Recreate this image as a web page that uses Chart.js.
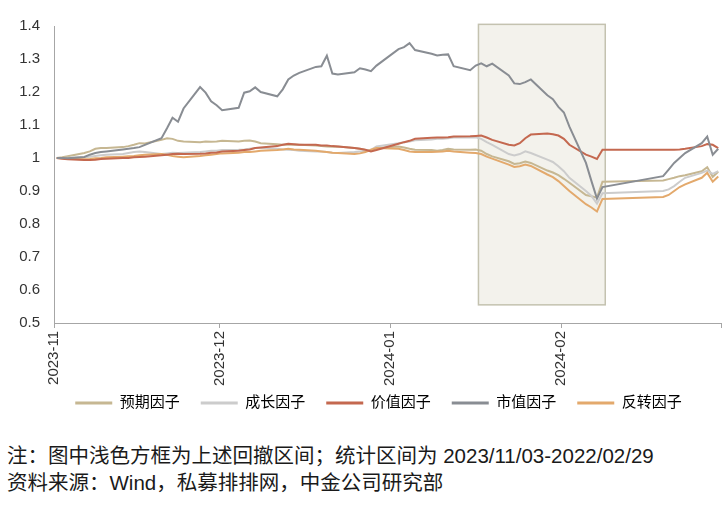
<!DOCTYPE html>
<html>
<head>
<meta charset="utf-8">
<script src="https://cdn.jsdelivr.net/npm/chart.js@4.4.1/dist/chart.umd.min.js"></script>
<style>
  html, body { margin: 0; padding: 0; background: #fff; }
  body { width: 726px; height: 507px; position: relative; overflow: hidden;
         font-family: "Liberation Sans", "Noto Sans CJK SC", sans-serif; }
  #c { position: absolute; left: 0; top: 0; }
  .note { position: absolute; left: 7px; font-size: 20.5px; line-height: 27px; color: #1a1a1a; white-space: nowrap; }
</style>
</head>
<body>
<canvas id="c" width="726" height="437"></canvas>
<div class="note" style="top:442px">注：图中浅色方框为上述回撤区间；统计区间为 2023/11/03-2022/02/29</div>
<div class="note" style="top:469px">资料来源：Wind，私募排排网，中金公司研究部</div>
<script>
// 交易日
const dates = [
  '2023-11-01','2023-11-02','2023-11-03','2023-11-06','2023-11-07','2023-11-08','2023-11-09','2023-11-10',
  '2023-11-13','2023-11-14','2023-11-15','2023-11-16','2023-11-17','2023-11-20','2023-11-21','2023-11-22',
  '2023-11-23','2023-11-24','2023-11-27','2023-11-28','2023-11-29','2023-11-30',
  '2023-12-01','2023-12-04','2023-12-05','2023-12-06','2023-12-07','2023-12-08','2023-12-11','2023-12-12',
  '2023-12-13','2023-12-14','2023-12-15','2023-12-18','2023-12-19','2023-12-20','2023-12-21','2023-12-22',
  '2023-12-25','2023-12-26','2023-12-27','2023-12-28','2023-12-29',
  '2024-01-02','2024-01-03','2024-01-04','2024-01-05','2024-01-08','2024-01-09','2024-01-10','2024-01-11',
  '2024-01-12','2024-01-15','2024-01-16','2024-01-17','2024-01-18','2024-01-19','2024-01-22','2024-01-23',
  '2024-01-24','2024-01-25','2024-01-26','2024-01-29','2024-01-30','2024-01-31',
  '2024-02-01','2024-02-02','2024-02-05','2024-02-06','2024-02-07','2024-02-08','2024-02-19','2024-02-20',
  '2024-02-21','2024-02-22','2024-02-23','2024-02-26','2024-02-27','2024-02-28','2024-02-29'
];

// 各因子净值
const yuqi = [
  1.000,1.002,1.005,1.015,1.020,1.028,1.030,1.030,1.033,1.036,1.040,1.045,1.044,1.055,1.060,1.058,1.052,1.050,1.048,1.050,1.049,1.050,
  1.052,1.050,1.052,1.053,1.050,1.045,1.042,1.040,1.040,1.041,1.040,1.038,1.036,1.035,1.034,1.035,1.030,1.028,1.024,1.022,1.030,
  1.035,1.032,1.028,1.025,1.024,1.022,1.024,1.028,1.026,1.025,1.026,1.022,1.012,1.005,0.990,0.982,0.984,0.989,0.985,0.962,0.956,0.948,
  0.937,0.925,0.888,0.884,0.880,0.928,0.932,0.936,0.940,0.945,0.948,0.960,0.972,0.943,0.958
];
const chengzhang = [
  1.000,1.000,1.001,1.002,1.004,1.006,1.008,1.010,1.012,1.015,1.018,1.020,1.018,1.012,1.014,1.016,1.015,1.016,1.018,1.020,1.022,1.022,
  1.024,1.025,1.026,1.028,1.030,1.030,1.028,1.026,1.025,1.024,1.022,1.020,1.020,1.018,1.016,1.015,1.018,1.020,1.022,1.025,1.035,
  1.045,1.048,1.050,1.054,1.056,1.058,1.058,1.060,1.062,1.062,1.063,1.058,1.048,1.040,1.012,1.008,1.012,1.020,1.015,0.995,0.988,0.975,
  0.960,0.940,0.900,0.885,0.862,0.893,0.900,0.905,0.915,0.928,0.940,0.955,0.962,0.952,0.960
];
const jiazhi = [
  1.000,0.998,0.996,0.994,0.994,0.995,0.997,0.998,1.000,1.000,1.002,1.003,1.004,1.008,1.010,1.012,1.013,1.012,1.013,1.014,1.016,1.017,
  1.020,1.022,1.024,1.026,1.030,1.032,1.036,1.040,1.043,1.042,1.040,1.040,1.038,1.038,1.036,1.035,1.030,1.028,1.025,1.020,1.024,
  1.043,1.048,1.052,1.058,1.061,1.062,1.062,1.063,1.065,1.066,1.067,1.068,1.062,1.055,1.040,1.038,1.045,1.060,1.071,1.074,1.072,1.068,
  1.058,1.040,1.010,1.004,0.997,1.025,1.025,1.025,1.025,1.026,1.028,1.036,1.042,1.040,1.030
];
const shizhi = [
  1.000,1.000,0.999,1.003,1.010,1.015,1.018,1.020,1.026,1.028,1.030,1.033,1.040,1.060,1.090,1.122,1.110,1.150,1.215,1.198,1.172,1.160,
  1.145,1.152,1.198,1.202,1.214,1.200,1.187,1.208,1.238,1.250,1.258,1.276,1.278,1.310,1.256,1.253,1.260,1.272,1.268,1.263,1.280,
  1.330,1.336,1.348,1.327,1.316,1.311,1.313,1.314,1.278,1.266,1.280,1.287,1.278,1.286,1.250,1.226,1.224,1.230,1.238,1.190,1.178,1.155,
  1.138,1.095,0.985,0.930,0.877,0.912,0.945,0.965,0.985,1.000,1.015,1.045,1.065,1.010,1.028
];
const fanzhuan = [
  1.000,0.999,0.998,0.996,0.997,0.999,1.000,1.002,1.004,1.005,1.006,1.008,1.010,1.012,1.010,1.006,1.004,1.002,1.006,1.008,1.010,1.012,
  1.014,1.016,1.018,1.018,1.020,1.022,1.024,1.026,1.028,1.026,1.025,1.022,1.020,1.018,1.016,1.015,1.012,1.014,1.018,1.025,1.030,
  1.028,1.024,1.020,1.018,1.018,1.019,1.020,1.022,1.020,1.016,1.015,1.012,1.004,0.998,0.980,0.973,0.975,0.980,0.976,0.950,0.942,0.930,
  0.915,0.900,0.860,0.850,0.838,0.876,0.882,0.888,0.900,0.912,0.920,0.940,0.955,0.928,0.944
];

const seriesNames = ['预期因子', '成长因子', '价值因子', '市值因子', '反转因子'];
const seriesColors = ['#c6b792', '#cccccc', '#c4684f', '#898d93', '#e3a96c'];

// 横轴刻度（月初）
const monthStarts = ['2023-11-01', '2023-12-01', '2024-01-01', '2024-02-01', '2024-03-01'];
const monthLabels = ['2023-11', '2023-12', '2024-01', '2024-02', ''];

// 回撤区间方框
const boxDates = ['2024-01-17', '2024-02-08'];
const boxRange = [0.555, 1.405];

const base = Date.UTC(2023, 10, 1);
function dayOf(s) {
    const p = s.split('-').map(Number);
    return (Date.UTC(p[0], p[1] - 1, p[2]) - base) / 86400000;
}

const days = dates.map(dayOf);
const allSeries = [yuqi, chengzhang, jiazhi, shizhi, fanzhuan];

const boxPlugin = {
    id: 'drawdownBox',
    afterLayout(chart) {
        // 图例整体位置微调
        const lg = chart.legend;
        lg.left += 18; lg.right += 18;
        lg.top -= 16.5; lg.bottom -= 16.5;
    },
    beforeDatasetsDraw(chart) {
        const { ctx, scales: { x, y } } = chart;
        const x0 = x.getPixelForValue(dayOf(boxDates[0]) - 0.5);
        const x1 = x.getPixelForValue(dayOf(boxDates[1]) + 0.5);
        const y0 = y.getPixelForValue(boxRange[1]);
        const y1 = y.getPixelForValue(boxRange[0]);
        ctx.save();
        ctx.fillStyle = '#f3f2ec';
        ctx.fillRect(x0, y0, x1 - x0, y1 - y0);
        ctx.strokeStyle = '#c4c2b0';
        ctx.lineWidth = 1.5;
        ctx.strokeRect(x0, y0, x1 - x0, y1 - y0);
        ctx.restore();
    }
};

Chart.defaults.font.family = '"Liberation Sans", "Noto Sans CJK SC", sans-serif';
Chart.defaults.color = '#333';

new Chart(document.getElementById('c'), {
    type: 'line',
    data: {
        datasets: allSeries.map((vals, i) => ({
            label: seriesNames[i],
            data: vals.map((v, k) => ({ x: days[k], y: v })),
            borderColor: seriesColors[i],
            backgroundColor: seriesColors[i],
            borderWidth: 2,
            pointRadius: 0,
            tension: 0,
            order: i === 3 ? 0 : (i === 2 ? 1 : 5 - i + 1)
        }))
    },
    options: {
        responsive: false,
        animation: false,
        layout: { padding: { left: 0, right: 5, top: 26, bottom: 0 } },
        plugins: {
            tooltip: { enabled: false },
            legend: {
                position: 'bottom',
                fullSize: true,
                labels: {
                    boxWidth: 37,
                    boxHeight: 3,
                    padding: 21,
                    color: '#333',
                    font: { size: 15 },
                    generateLabels: (chart) => seriesNames.map((n, i) => ({
                        text: n,
                        fillStyle: seriesColors[i],
                        strokeStyle: seriesColors[i],
                        lineWidth: 0,
                        datasetIndex: i
                    }))
                }
            }
        },
        scales: {
            x: {
                type: 'linear',
                min: dayOf(monthStarts[0]) - 0.5,
                max: dayOf(monthStarts[monthStarts.length - 1]) - 0.5,
                afterBuildTicks: (scale) => {
                    scale.ticks = monthStarts.map(s => ({ value: dayOf(s) - 0.5 }));
                },
                afterFit: (scale) => {
                    scale.height = 68;
                    scale.paddingLeft = 0;
                    scale.paddingRight = 0;
                },
                grid: { display: true, drawOnChartArea: false, drawTicks: true, tickLength: 5, color: '#a6a6a6' },
                border: { display: true, color: '#a6a6a6', width: 1 },
                ticks: {
                    autoSkip: false,
                    minRotation: 90,
                    maxRotation: 90,
                    padding: 3,
                    color: '#333',
                    font: { size: 15 },
                    callback: (v, i) => monthLabels[i]
                }
            },
            y: {
                min: 0.5,
                max: 1.4,
                afterFit: (scale) => {
                    scale.width = 54;
                    scale.paddingTop = 0;
                    scale.paddingBottom = 0;
                },
                grid: { display: true, drawOnChartArea: false, drawTicks: false },
                border: { display: true, color: '#a6a6a6', width: 1 },
                ticks: {
                    stepSize: 0.1,
                    padding: 14,
                    color: '#333',
                    font: { size: 15 },
                    callback: (v) => String(+v.toFixed(1))
                }
            }
        }
    },
    plugins: [boxPlugin]
});
</script>
</body>
</html>
